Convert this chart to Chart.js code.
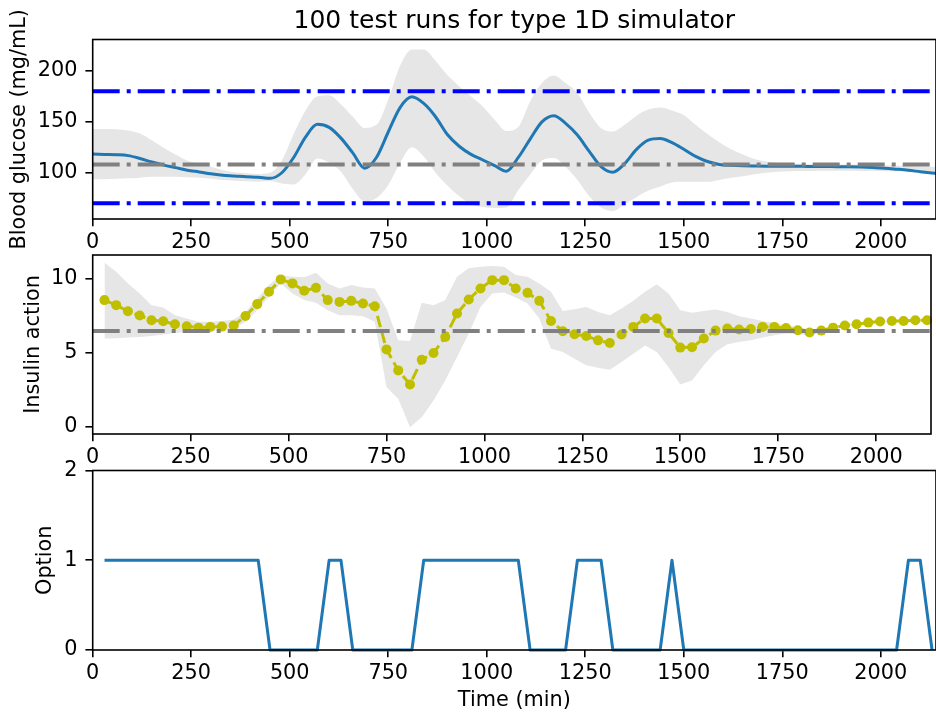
<!DOCTYPE html>
<html>
<head>
<meta charset="utf-8">
<script src="https://cdn.jsdelivr.net/npm/chart.js@4.4.1/dist/chart.umd.min.js"></script>
<style>
body { margin: 0; background: #fff; }
#wrap { position: relative; width: 936px; height: 713px; }
canvas { position: absolute; left: 0; top: 0; }
</style>
</head>
<body>
<div id="wrap">
<canvas id="glucose" width="936" height="713"></canvas>
<canvas id="insulin" width="936" height="713"></canvas>
<canvas id="option" width="936" height="713"></canvas>
</div>
<script>
var FONT = 'DejaVu Sans';
Chart.defaults.font.family = FONT;

var xTicks = [0, 250, 500, 750, 1000, 1250, 1500, 1750, 2000];
var xMax = 2140;

// blood glucose: mean and spread of 100 runs
var glucoseTime = [0,30,60,90,120,150,180,210,240,270,300,330,360,390,420,450,480,510,540,570,
  600,630,660,690,720,750,780,810,840,870,900,930,960,990,1020,1050,1080,1110,1140,1170,
  1200,1230,1260,1290,1320,1350,1380,1410,1440,1470,1500,1530,1560,1590,1620,1650,1680,1710,1740,1770,
  1800,1830,1860,1890,1920,1950,1980,2010,2040,2070,2100,2130,2140];
var glucoseMean = [118.3,118,117.7,116.8,114,110.5,107.5,105,102.5,100.8,99,97.5,96.8,96,95.5,94.5,100,115,135,147.5,
  144.5,134,119.5,104.5,115,140,164,174.5,168,155,137.5,126,118,112.5,107,101.5,115,133,150,156,
  148.5,137,121,106,100.5,109,123,132,133.5,129.5,123,116,111,108.2,107.3,106.8,106.6,106.5,106.5,106.4,
  106.3,106.2,106.1,106,105.9,105.6,105.1,104.5,103.5,102.4,101,99.7,99.3];
var glucoseUpper = [143,143,142.8,141.5,138.6,132,124.5,118,112,108.5,106,102.7,100.5,99.5,98.8,100,112,138,161,175,
  176,167,155,144,147,172,205,221,221,210,196,185,175,165,152,141,145,170,188,195.5,
  188,178,159,144,140.5,147,156,162,164,161,156.5,147,138,130,123,118,113.5,111,109.8,109,
  108.5,108.3,108.2,108,108,107.8,107.6,107.3,107,106.7,106.3,106,106];
var glucoseLower = [93.5,93.7,94,94.5,95.2,96,96.1,96,95.6,95,94.2,92.8,92.2,91.7,91.2,91.8,89.5,88.5,98.5,114,
  110,101,84,72,75,88,109.5,125,116,100,87.5,77,69,66.5,65.5,66,83,98,112,114.5,
  106,93,77,66,62.5,69,76,82.5,86.5,90.5,91.2,91.2,91.2,93,95,96.5,98.5,100,101,101.5,
  101.7,101.8,102,102,102,101.8,101.7,101.5,101.4,101.3,101.2,101,101];
var glucoseLimits = [70, 180];
var glucoseTarget = 108;
var glucoseTicks = [100, 150, 200];

// insulin action
var insulinTime = [30,60,90,120,150,180,210,240,270,300,330,360,390,420,450,480,510,540,570,600,
  630,660,690,720,750,780,810,840,870,900,930,960,990,1020,1050,1080,1110,1140,1170,1200,
  1230,1260,1290,1320,1350,1380,1410,1440,1470,1500,1530,1560,1590,1620,1650,1680,1710,1740,1770,1800,
  1830,1860,1890,1920,1950,1980,2010,2040,2070,2100,2130];
var insulinMean = [8.53,8.19,7.78,7.49,7.17,7.10,6.90,6.76,6.67,6.72,6.74,6.81,7.46,8.26,9.09,9.93,9.66,9.16,9.36,8.53,
  8.41,8.48,8.30,8.12,5.20,3.78,2.83,4.50,4.95,6.04,7.62,8.57,9.32,9.88,9.88,9.32,9.02,8.48,7.12,6.42,
  6.22,6.11,5.81,5.63,6.20,6.72,7.29,7.29,6.31,5.32,5.34,5.93,6.47,6.61,6.54,6.58,6.72,6.72,6.65,6.49,
  6.34,6.47,6.67,6.81,6.90,7.01,7.08,7.12,7.12,7.17,7.17];
var insulinUpper = [11.06,10.45,9.66,8.98,8.19,8.03,7.51,7.29,7.06,7.06,7.12,7.22,7.73,8.64,9.55,10.22,10.11,10.07,10.38,9.66,
  9.32,9.55,9.39,9.32,7.96,5.81,5.77,8.35,8.19,8.53,10.11,10.68,10.79,10.83,10.79,10.22,10.11,9.66,9.09,7.80,
  7.92,8.07,7.73,7.51,7.96,8.48,9.09,9.61,8.98,7.85,7.67,7.80,7.90,7.73,7.44,7.29,7.12,6.99,6.83,6.72,
  6.54,6.58,6.76,6.90,6.98,7.08,7.14,7.18,7.18,7.22,7.22];
var insulinLower = [5.93,5.95,6.00,6.04,6.11,6.20,6.31,6.38,6.42,6.45,6.49,6.60,7.06,7.85,8.75,9.66,8.98,8.53,8.35,7.85,
  7.51,7.51,7.44,7.06,2.65,1.86,-0.07,0.61,1.74,3.10,4.68,6.27,8.07,8.98,9.05,8.70,8.30,7.29,5.25,5.02,
  4.57,4.12,3.96,3.83,4.34,4.91,5.47,5.02,4.00,2.83,3.10,4.12,5.02,5.54,5.70,5.81,6.00,6.15,6.27,6.22,
  6.15,6.36,6.58,6.72,6.82,6.94,7.02,7.06,7.06,7.12,7.12];
var insulinRef = 6.45;
var insulinTicks = [0, 5, 10];

// option chosen at each step
var optionValues = [1,1,1,1,1,1,1,1,1,1,1,1,1,1,0,0,0,0,0,1,
  1,0,0,0,0,0,0,1,1,1,1,1,1,1,1,1,0,0,0,0,
  1,1,1,0,0,0,0,0,1,0,0,0,0,0,0,0,0,0,0,0,
  0,0,0,0,0,0,0,0,1,1,0];
var optionTicks = [0, 1, 2];

function pts(xs, ys) {
  return xs.map(function (x, i) { return { x: x, y: ys[i] }; });
}
function hline(v) {
  return [{ x: 0, y: v }, { x: xMax, y: v }];
}
var dashDot = [27, 7, 4, 7];

var frame = {
  id: 'frame',
  afterDraw: function (c) {
    var a = c.chartArea, g = c.ctx;
    g.save();
    g.strokeStyle = '#000';
    g.lineWidth = 1.6;
    g.strokeRect(a.left, a.top, a.right - a.left, a.bottom - a.top);
    g.restore();
  }
};

function scales(o) {
  return {
    x: {
      type: 'linear', min: 0, max: xMax,
      afterBuildTicks: function (s) { s.ticks = xTicks.map(function (v) { return { value: v }; }); },
      afterFit: function (s) { s.height = o.xHeight; },
      ticks: { autoSkip: false, maxRotation: 0, padding: 3.7, color: '#000',
        font: { size: 20.8 }, callback: function (v) { return String(v); } },
      grid: { drawOnChartArea: false, color: '#000', lineWidth: 1.6, tickLength: 7.3 },
      border: { display: false },
      title: { display: !!o.xLabel, text: o.xLabel || '', color: '#000',
        font: { size: 20.8, weight: 'normal' }, padding: { top: 0, bottom: 0.3 } }
    },
    y: {
      type: 'linear', min: o.yMin, max: o.yMax,
      afterBuildTicks: function (s) { s.ticks = o.yTicks.map(function (v) { return { value: v }; }); },
      afterFit: function (s) { s.width = 92.7; },
      ticks: { padding: 8, color: '#000', font: { size: 20.8 },
        callback: function (v) { return String(v); } },
      grid: { drawOnChartArea: false, color: '#000', lineWidth: 1.6, tickLength: 7.3 },
      border: { display: false },
      title: { display: true, text: o.yLabel, color: '#000',
        font: { size: 20.8, weight: 'normal' }, padding: { top: o.yPad, bottom: 0 } }
    }
  };
}

function baseOptions(o) {
  return {
    responsive: false,
    animation: false,
    layout: { padding: o.padding },
    plugins: {
      legend: { display: false },
      tooltip: { enabled: false },
      title: o.title ? {
        display: true, text: o.title, fullSize: false, color: '#000',
        font: { size: 25, weight: 'normal' }, padding: { top: 6.6, bottom: 2.9 }
      } : { display: false }
    },
    scales: scales(o)
  };
}

new Chart(document.getElementById('glucose'), {
  type: 'line',
  data: {
    datasets: [
      { data: hline(glucoseLimits[0]), borderColor: '#0000ff', borderWidth: 4, borderDash: dashDot, pointRadius: 0, order: 0 },
      { data: hline(glucoseLimits[1]), borderColor: '#0000ff', borderWidth: 4, borderDash: dashDot, pointRadius: 0, order: 0 },
      { data: hline(glucoseTarget), borderColor: '#808080', borderWidth: 4, borderDash: dashDot, pointRadius: 0, order: 1 },
      { data: pts(glucoseTime, glucoseMean), borderColor: '#1f77b4', borderWidth: 3, pointRadius: 0,
        borderJoinStyle: 'round', cubicInterpolationMode: 'monotone', order: 2 },
      { data: pts(glucoseTime, glucoseUpper), borderColor: 'rgba(0,0,0,0)', borderWidth: 0, pointRadius: 0,
        cubicInterpolationMode: 'monotone', fill: '+1', backgroundColor: '#e6e6e6', order: 3 },
      { data: pts(glucoseTime, glucoseLower), borderColor: 'rgba(0,0,0,0)', borderWidth: 0, pointRadius: 0,
        cubicInterpolationMode: 'monotone', fill: false, order: 3 }
    ]
  },
  options: baseOptions({
    title: '100 test runs for type 1D simulator',
    padding: { top: 0, left: 0, right: 0, bottom: 454 },
    xHeight: 40, yMin: 54.6, yMax: 230.8, yTicks: glucoseTicks,
    yLabel: 'Blood glucose (mg/mL)', yPad: 7.5
  }),
  plugins: [frame]
});

new Chart(document.getElementById('insulin'), {
  type: 'line',
  data: {
    datasets: [
      { data: hline(insulinRef), borderColor: '#808080', borderWidth: 4, borderDash: dashDot, pointRadius: 0, order: 0 },
      { data: pts(insulinTime, insulinMean), borderColor: '#bfbf00', borderWidth: 3, borderDash: [11.5, 5],
        pointRadius: 5, pointBackgroundColor: '#bfbf00', pointBorderWidth: 0, clip: false, order: 1 },
      { data: pts(insulinTime, insulinUpper), borderColor: 'rgba(0,0,0,0)', borderWidth: 0, pointRadius: 0,
        fill: '+1', backgroundColor: '#e6e6e6', order: 2 },
      { data: pts(insulinTime, insulinLower), borderColor: 'rgba(0,0,0,0)', borderWidth: 0, pointRadius: 0,
        fill: false, order: 2 }
    ]
  },
  options: baseOptions({
    padding: { top: 255, left: 0, right: 0, bottom: 239 },
    xHeight: 40, yMin: -0.52, yMax: 11.58, yTicks: insulinTicks,
    yLabel: 'Insulin action', yPad: 21
  }),
  plugins: [frame]
});

new Chart(document.getElementById('option'), {
  type: 'line',
  data: {
    datasets: [
      { data: pts(insulinTime, optionValues), borderColor: '#1f77b4', borderWidth: 3, pointRadius: 0,
        borderJoinStyle: 'round', clip: false }
    ]
  },
  options: baseOptions({
    padding: { top: 470.5, left: 0, right: 0, bottom: 0 },
    xHeight: 63, yMin: 0, yMax: 2, yTicks: optionTicks,
    yLabel: 'Option', yPad: 33.5, xLabel: 'Time (min)'
  }),
  plugins: [frame]
});
</script>
</body>
</html>
